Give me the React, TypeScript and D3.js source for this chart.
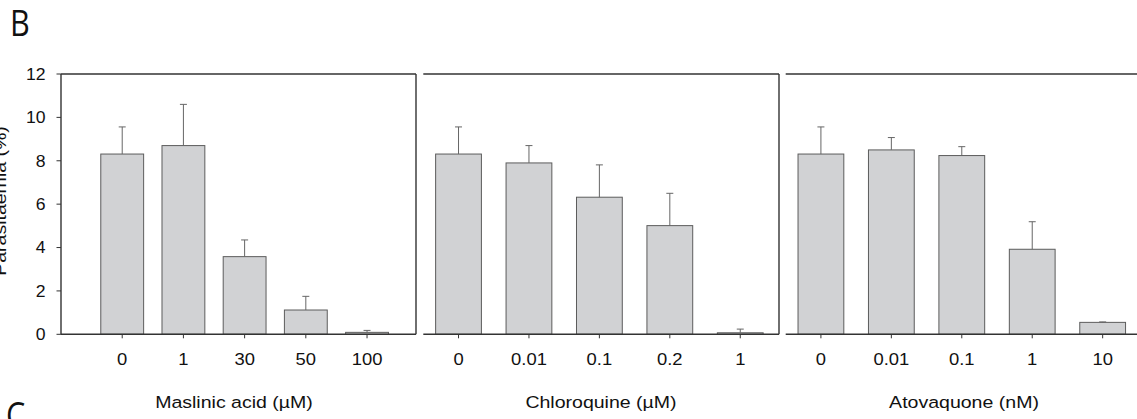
import React from 'react'
import * as d3 from 'd3'

// values (parasitaemia %, mean and upper error)
const maslinicDoses = ['0', '1', '30', '50', '100']
const maslinicMean = [8.31, 8.7, 3.58, 1.12, 0.09]
const maslinicErr = [1.25, 1.9, 0.77, 0.63, 0.09]

const chloroquineDoses = ['0', '0.01', '0.1', '0.2', '1']
const chloroquineMean = [8.31, 7.9, 6.32, 5.01, 0.07]
const chloroquineErr = [1.25, 0.8, 1.49, 1.49, 0.17]

const atovaquoneDoses = ['0', '0.01', '0.1', '1', '10']
const atovaquoneMean = [8.31, 8.5, 8.24, 3.92, 0.55]
const atovaquoneErr = [1.25, 0.57, 0.41, 1.27, 0.02]

const panelTitles = ['Maslinic acid (\u00b5M)', 'Chloroquine (\u00b5M)', 'Atovaquone (nM)']
const yTicks = [0, 2, 4, 6, 8, 10, 12]

const W = 1137
const H = 419
const TOP = 74
const BOTTOM = 334.3
const FONT = '"Liberation Sans", Arial, sans-serif'
const BAR_FILL = '#d1d2d4'
const BAR_STROKE = '#5c5c5c'
const AXIS = '#333'

const y = d3.scaleLinear().domain([0, 12]).range([BOTTOM, TOP])

// layout of the three panels
const panels = [
  { doses: maslinicDoses, mean: maslinicMean, err: maslinicErr, title: panelTitles[0],
    domain: [-1, 4.8], range: [61, 416], barW: 0.7, titleX: 234, left: true, right: true },
  { doses: chloroquineDoses, mean: chloroquineMean, err: chloroquineErr, title: panelTitles[1],
    domain: [-0.5, 4.55], range: [423.3, 779], barW: 0.65, titleX: 601, left: false, right: true },
  { doses: atovaquoneDoses, mean: atovaquoneMean, err: atovaquoneErr, title: panelTitles[2],
    domain: [-0.5, 4.55], range: [785.7, 1141.4], barW: 0.65, titleX: 964, left: false, right: false },
]

function Label({ x, y, children, size = 16, sx = 1.15, anchor = 'middle', rotate = 0 }: any) {
  return (
    <text
      transform={`translate(${x},${y}) rotate(${rotate}) scale(${sx},1)`}
      textAnchor={anchor}
      fontFamily={FONT}
      fontSize={size}
      fill="#111"
    >
      {children}
    </text>
  )
}

function Panel({ p }: any) {
  const x = d3.scaleLinear().domain(p.domain).range(p.range)
  const bw = x(p.barW) - x(0)
  const [x0, x1] = p.range
  return (
    <g>
      {/* bars */}
      {p.mean.map((v: number, i: number) => (
        <rect
          key={'b' + i}
          x={x(i) - bw / 2}
          y={y(v)}
          width={bw}
          height={y(0) - y(v)}
          fill={BAR_FILL}
          stroke={BAR_STROKE}
          strokeWidth={1}
        />
      ))}
      {/* upper error bars */}
      {p.mean.map((v: number, i: number) => (
        <g key={'e' + i} stroke="#666" strokeWidth={1}>
          <line x1={x(i)} x2={x(i)} y1={y(v)} y2={y(v + p.err[i])} />
          <line x1={x(i) - 3.5} x2={x(i) + 3.5} y1={y(v + p.err[i])} y2={y(v + p.err[i])} />
        </g>
      ))}
      {/* frame */}
      <g stroke={AXIS} strokeWidth={1.4} fill="none">
        <line x1={x0} x2={x1} y1={TOP} y2={TOP} />
        <line x1={x0} x2={x1} y1={BOTTOM} y2={BOTTOM} />
        {p.left && <line x1={x0} x2={x0} y1={TOP} y2={BOTTOM} />}
        {p.right && <line x1={x1} x2={x1} y1={TOP} y2={BOTTOM} />}
      </g>
      {/* x ticks and labels */}
      {p.doses.map((d: string, i: number) => (
        <g key={'t' + i}>
          <line x1={x(i)} x2={x(i)} y1={BOTTOM} y2={BOTTOM + 4} stroke={AXIS} strokeWidth={1} />
          <Label x={x(i)} y={365}>{d}</Label>
        </g>
      ))}
      <Label x={p.titleX} y={408} size={17}>{p.title}</Label>
    </g>
  )
}

export default function App() {
  return (
    <svg width={W} height={H} style={{ position: 'absolute', left: 0, top: 0, background: '#fff' }}>
      <rect width={W} height={H} fill="#fff" />
      <text transform="translate(10,36) scale(0.85,1)" fontFamily='"Open Sans", sans-serif' fontSize={36} fill="#111">B</text>
      <text transform="translate(6,428) scale(0.85,1)" fontFamily='"Open Sans", sans-serif' fontSize={36} fill="#111">C</text>

      {/* y axis */}
      {yTicks.map(t => (
        <g key={t}>
          <line x1={56.5} x2={61} y1={y(t)} y2={y(t)} stroke={AXIS} strokeWidth={1} />
          <Label x={45.5} y={y(t) + 5.8} anchor="end" sx={1.1}>{t}</Label>
        </g>
      ))}
      <Label x={6} y={201} size={17} rotate={-90}>Parasitaemia (%)</Label>

      {panels.map((p, i) => <Panel key={i} p={p} />)}
    </svg>
  )
}
